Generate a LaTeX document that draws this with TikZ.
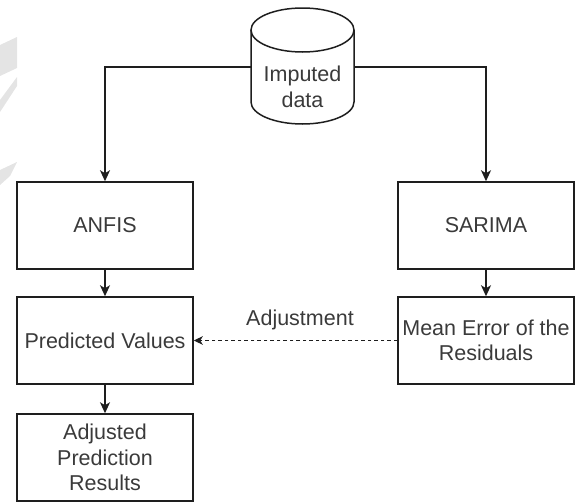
\documentclass[tikz,border=0pt]{standalone}
\usepackage{fontspec}
\setmainfont{Liberation Sans}
\usetikzlibrary{arrows.meta}
\definecolor{linec}{HTML}{1E1E1E}
\definecolor{textc}{HTML}{3A3A3A}
\definecolor{wmark}{HTML}{E4E4E4}
\tikzset{
  txt/.style={text=textc, font=\fontsize{21.5}{25.5}\selectfont},
  box/.style={txt, draw=linec, line width=1.5pt, minimum width=176pt, minimum height=87pt,
    inner sep=0pt, align=center},
  conn/.style={draw=linec, line width=1.5pt, -{Stealth[length=11pt,width=10pt,inset=3pt]}},
  dconn/.style={draw=linec, line width=1.3pt, dash pattern=on 3.5pt off 3pt,
    -{Stealth[length=9pt,width=8.5pt,inset=2.5pt]}},
  lbl/.style={txt, inner sep=0pt}
}
\begin{document}
\begin{tikzpicture}[x=1pt,y=-1pt]
\useasboundingbox (0,0) rectangle (575,501);
% faint watermark
\fill[wmark] (0,45) -- (17,37) -- (17,68) -- (0,76) -- cycle;
\fill[wmark] (17,77) -- (17,86) -- (0,112) -- (0,100) -- cycle;
\fill[wmark] (0,170) -- (17,162) -- (10,176) -- (0,185) -- cycle;
% cylinder
\draw[linec, line width=1.5pt] (251,30) -- (251,102)
  arc[start angle=180, end angle=0, x radius=51.5, y radius=22] -- (354,30);
\draw[linec, line width=1.5pt] (302.5,30) ellipse[x radius=51.5, y radius=22];
\node[minimum width=103pt, minimum height=116pt, inner sep=0pt] (db) at (302.5,67) {};
\node[lbl, align=center] (dbtext) at (302.5,87) {Imputed\\data};
% boxes
\node[box] (anfis) at (105,225.5) {ANFIS};
\node[box] (sarima) at (486,225.5) {SARIMA};
\node[box] (pred) at (105,340.5) {Predicted Values};
\node[box] (mean) at (486,340.5) {Mean Error of the\\Residuals};
\node[box] (adj) at (105,457.5) {Adjusted\\Prediction\\Results};
% connectors
\draw[conn] (db.west) -| (anfis.north);
\draw[conn] (db.east) -| (sarima.north);
\draw[conn] (anfis) -- (pred);
\draw[conn] (sarima) -- (mean);
\draw[conn] (pred) -- (adj);
\draw[dconn] (mean.west) -- (pred.east);
\node[lbl] (adjlbl) at (300,320) {Adjustment};
\end{tikzpicture}
\end{document}
